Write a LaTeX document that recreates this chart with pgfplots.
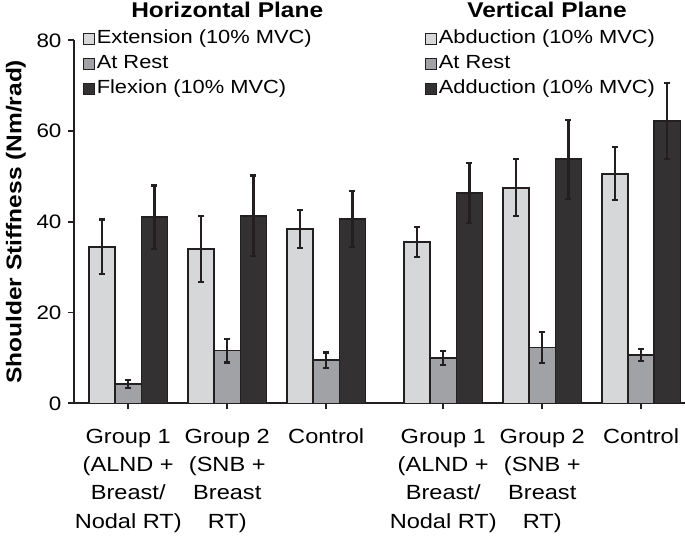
\documentclass[border=0pt]{standalone}
\usepackage{pgfplots}
\pgfplotsset{compat=1.18}
\usepackage{fontspec}
\setmainfont{Liberation Sans}[FakeStretch=1.15]
\definecolor{edge}{HTML}{231F20}
\definecolor{lg}{HTML}{D6D7D9}
\definecolor{mg}{HTML}{A1A2A6}
\definecolor{dk}{HTML}{333132}
\newcommand\legfont{\fontsize{19}{22}\selectfont}
\newcommand\tickfont{\fontsize{20.5}{28.3}\selectfont}
\newcommand\ytickfont{\fontsize{19.5}{23}\selectfont}
\newcommand\titlefont{\fontsize{21.3}{24}\selectfont\bfseries}
\pgfplotsset{
  common/.style={
    at={(0,0)}, anchor=south west,
    scale only axis, width=611pt, height=363pt,
    xmin=-0.548, xmax=5.624, ymin=0, ymax=80,
    ybar, bar width=0.265,
    clip=false,
    /pgf/number format/assume math mode=true,
    legend cell align=left,
    legend image code/.code={\draw[##1, line width=1.1pt] (0pt,-5.5pt) rectangle (11pt,5.5pt);},
  },
  bars/.style={draw=edge, line width=1.6pt,
    error bars/y dir=both, error bars/y explicit,
    error bars/error bar style={line width=2.2pt, color=edge},
    error bars/error mark options={rotate=90, line width=2.2pt, mark size=3pt, color=edge}},
  legst/.style={legend style={draw=none, fill=none, at={(#1,1.033)}, anchor=north west,
    inner sep=0pt, font=\legfont, row sep=4.5pt,
    nodes={inner sep=1.5pt, text height=13.5pt, text depth=4pt}}},
}
\begin{document}
\begin{tikzpicture}
\useasboundingbox (-74pt,-134.7pt) rectangle (611pt,403.3pt);
\begin{axis}[common, legst=0.0147,
  axis lines=left, axis line style={-, line width=1.8pt, color=edge},
  ytick={0,20,40,60,80},
  xtick={0,1,2,3.182,4.182,5.18},
  xticklabels={{Group 1\\(ALND +\\Breast/\\Nodal RT)}, {Group 2\\(SNB +\\Breast\\RT)}, Control, {Group 1\\(ALND +\\Breast/\\Nodal RT)}, {Group 2\\(SNB +\\Breast\\RT)}, Control},
  xticklabel style={align=center, font=\tickfont, anchor=north, yshift=-16pt},
  yticklabel style={font=\ytickfont, xshift=-3pt},
  tick align=outside, major tick length=6pt, tick style={line width=1.8pt, color=edge},
  ylabel={\titlefont Shoulder Stiffness (Nm/rad)},
  ylabel style={at={(axis description cs:-0.095,0.5)}, anchor=center},
]
\addplot[fill=lg, bars, bar shift=-0.265] coordinates {(0,34.5) +- (0,6.0) (1,34.0) +- (0,7.2) (2,38.4) +- (0,4.2)};
\addplot[fill=mg, bars, bar shift=0] coordinates {(0,4.2) +- (0,0.9) (1,11.6) +- (0,2.6) (2,9.5) +- (0,1.7)};
\addplot[fill=dk, bars, bar shift=0.265] coordinates {(0,41.0) +- (0,7.0) (1,41.3) +- (0,8.9) (2,40.6) +- (0,6.2)};
\legend{Extension (10\% MVC), At Rest, Flexion (10\% MVC)}
\node[font=\titlefont] at (axis cs:1,86.7) {Horizontal Plane};
\node[font=\titlefont] at (axis cs:4.23,86.7) {Vertical Plane};
\end{axis}
\begin{axis}[common, legst=0.5745, hide axis]
\addplot[fill=lg, bars, bar shift=-0.265] coordinates {(3.182,35.6) +- (0,3.3) (4.182,47.5) +- (0,6.3) (5.18,50.6) +- (0,5.8)};
\addplot[fill=mg, bars, bar shift=0] coordinates {(3.182,10.0) +- (0,1.6) (4.182,12.3) +- (0,3.5) (5.18,10.6) +- (0,1.3)};
\addplot[fill=dk, bars, bar shift=0.265] coordinates {(3.182,46.4) +- (0,6.6) (4.182,53.8) +- (0,8.7) (5.18,62.2) +- (0,8.4)};
\legend{Abduction (10\% MVC), At Rest, Adduction (10\% MVC)}
\end{axis}
\end{tikzpicture}
\end{document}
